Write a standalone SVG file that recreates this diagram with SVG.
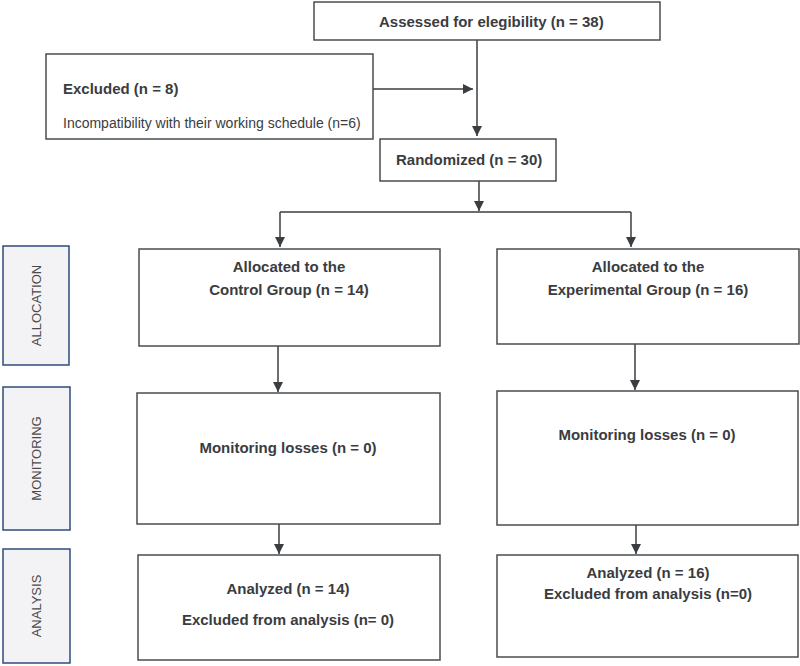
<svg xmlns="http://www.w3.org/2000/svg" width="800" height="666" viewBox="0 0 800 666">
<defs>
<marker id="ah" viewBox="0 0 10 10" refX="10" refY="5" markerWidth="10" markerHeight="10" markerUnits="userSpaceOnUse" orient="auto">
<path d="M0,0 L10,5 L0,10 Z" fill="#3a3e42"/>
</marker>
<style>
.box{fill:#fff;stroke:#4a4d50;stroke-width:1.5}
.side{fill:#f3f3f6;stroke:#2f4b7c;stroke-width:1.5}
.t{font-family:"Liberation Sans Narrow","Liberation Sans",Arial,sans-serif;font-weight:bold;font-size:15px;fill:#3a3c3f}
.tc{text-anchor:middle}
.s{font-family:"Liberation Sans",Arial,sans-serif;font-size:13px;fill:#4a4a4a;text-anchor:middle}
.c{fill:none;stroke:#3a3e42;stroke-width:1.5}
</style>
</defs>
<rect width="800" height="666" fill="#fff"/>
<g id="connectors">
<path class="c" d="M477,40 V136" marker-end="url(#ah)"/>
<path class="c" d="M373,89 H473" marker-end="url(#ah)"/>
<path class="c" d="M479,181 V211" marker-end="url(#ah)"/>
<path class="c" d="M280,212 H631"/>
<path class="c" d="M280,212 V247" marker-end="url(#ah)"/>
<path class="c" d="M631,212 V247" marker-end="url(#ah)"/>
<path class="c" d="M278,346 V392" marker-end="url(#ah)"/>
<path class="c" d="M635,344 V390" marker-end="url(#ah)"/>
<path class="c" d="M279,524 V554" marker-end="url(#ah)"/>
<path class="c" d="M636,525 V554" marker-end="url(#ah)"/>
</g>
<g id="n_assessed">
<rect class="box" x="314" y="2" width="346" height="38"/>
<text class="t" x="379" y="27">Assessed for elegibility (n = 38)</text>
</g>
<g id="n_excluded">
<rect class="box" x="46" y="54" width="327" height="85"/>
<text class="t" x="63" y="94">Excluded (n = 8)</text>
<text class="t" x="63" y="128" style="font-weight:normal;font-size:14px">Incompatibility with their working schedule (n=6)</text>
</g>
<g id="n_randomized">
<rect class="box" x="380" y="139" width="176" height="42"/>
<text class="t" x="396" y="165">Randomized (n = 30)</text>
</g>
<g id="n_alloc_control">
<rect class="box" x="139" y="249" width="301" height="97"/>
<text class="t tc" x="289" y="272">Allocated to the</text>
<text class="t tc" x="289" y="295">Control Group (n = 14)</text>
</g>
<g id="n_alloc_exp">
<rect class="box" x="497" y="249" width="302" height="95"/>
<text class="t tc" x="648" y="272">Allocated to the</text>
<text class="t tc" x="648" y="295">Experimental Group (n = 16)</text>
</g>
<g id="n_mon_control">
<rect class="box" x="137" y="393" width="303" height="131"/>
<text class="t tc" x="288" y="453">Monitoring losses (n = 0)</text>
</g>
<g id="n_mon_exp">
<rect class="box" x="497" y="391" width="301" height="134"/>
<text class="t tc" x="647" y="440">Monitoring losses (n = 0)</text>
</g>
<g id="n_ana_control">
<rect class="box" x="138" y="555" width="302" height="105"/>
<text class="t tc" x="288" y="594">Analyzed (n = 14)</text>
<text class="t tc" x="288" y="625">Excluded from analysis (n= 0)</text>
</g>
<g id="n_ana_exp">
<rect class="box" x="497" y="555" width="301" height="102"/>
<text class="t tc" x="648" y="578">Analyzed (n = 16)</text>
<text class="t tc" x="648" y="599">Excluded from analysis (n=0)</text>
</g>
<g id="side_allocation">
<rect class="side" x="3" y="246" width="66" height="119"/>
<text class="s" transform="translate(41,305.5) rotate(-90)">ALLOCATION</text>
</g>
<g id="side_monitoring">
<rect class="side" x="3" y="387" width="67" height="143"/>
<text class="s" transform="translate(41,458.5) rotate(-90)">MONITORING</text>
</g>
<g id="side_analysis">
<rect class="side" x="3" y="549" width="67" height="114"/>
<text class="s" transform="translate(41,606) rotate(-90)">ANALYSIS</text>
</g>
</svg>
